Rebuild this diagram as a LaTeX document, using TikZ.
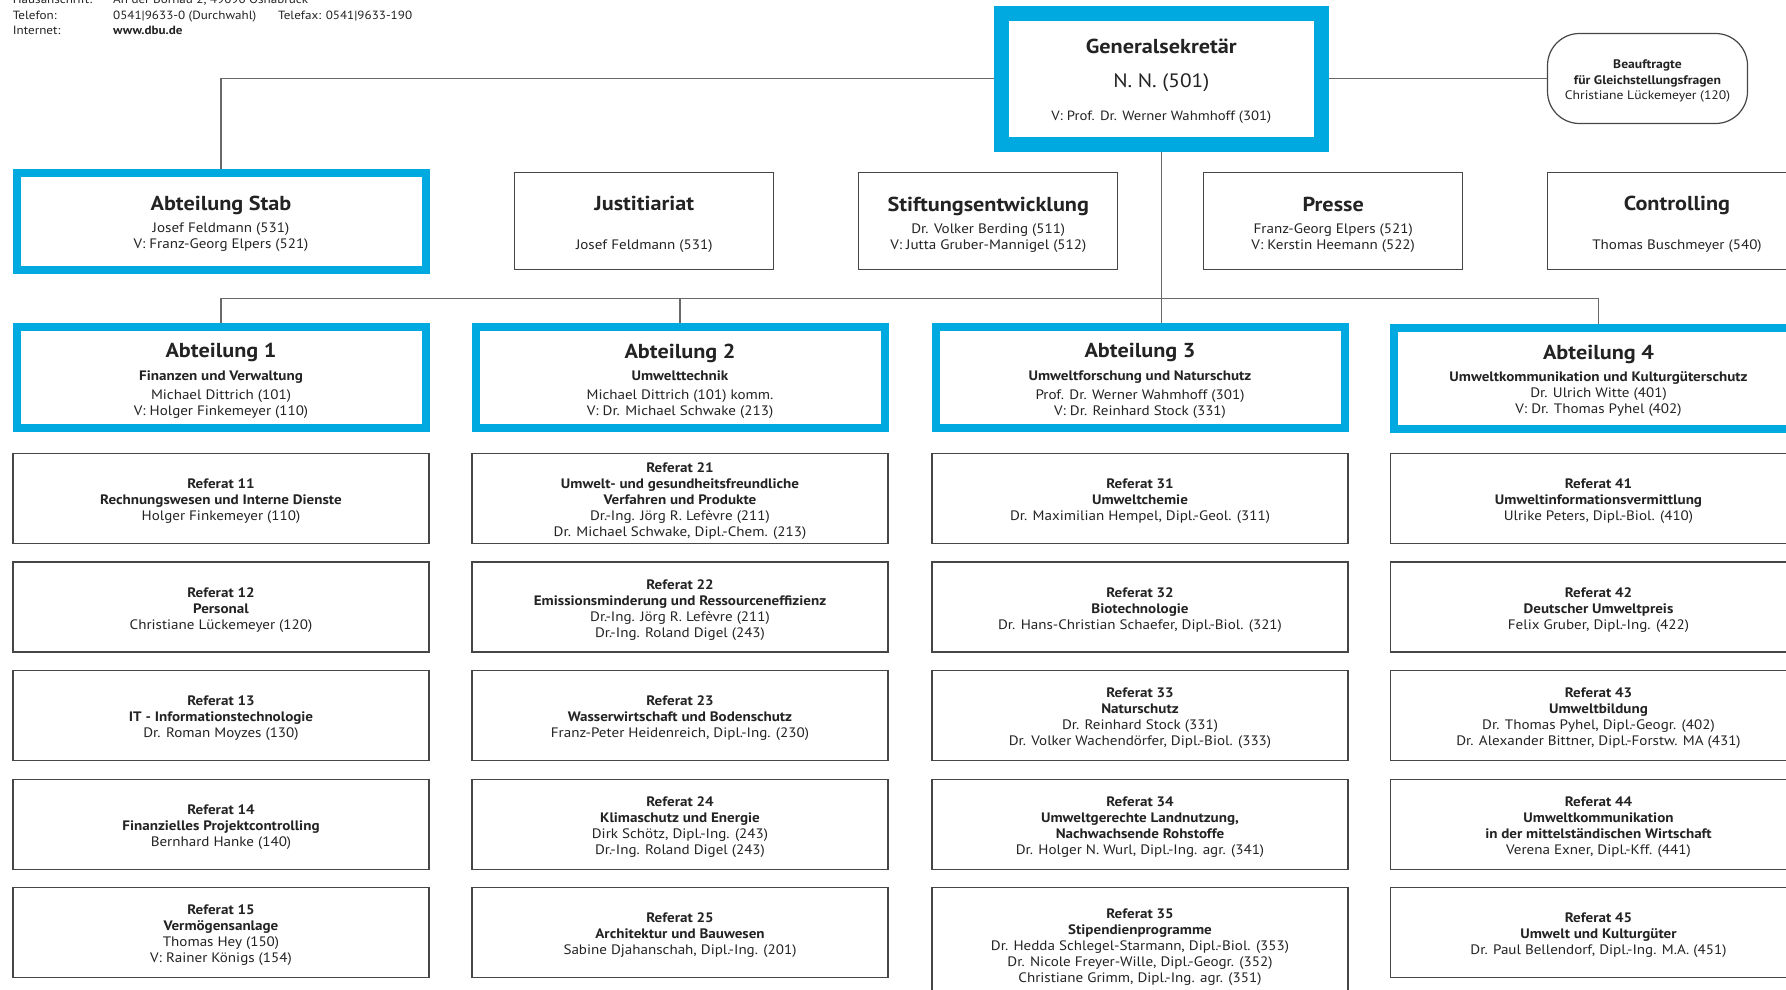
\documentclass[tikz,border=0pt]{standalone}
\usepackage{fontspec}
\setmainfont[FakeStretch=1.1]{PT Sans}
\usepackage{tikz}
\usetikzlibrary{positioning,backgrounds}
\definecolor{DBUBlue}{RGB}{0,169,224}
\definecolor{FrameGray}{RGB}{70,70,70}
\definecolor{LinkGray}{RGB}{105,105,105}
\definecolor{InkDark}{RGB}{35,35,35}
\newcommand{\boxtitle}[1]{{\fontsize{20.2}{16}\selectfont\bfseries #1}}
% empty closing line, pulls the text block a little lower in its frame
\newcommand{\lastfix}[1]{\\[-#1]\mbox{}}
\lineskiplimit=-100pt

\begin{document}
\begin{tikzpicture}[x=1pt, y=-1pt,
  every node/.style={text=InkDark},
  gsbox/.style={draw=DBUBlue, line width=15pt, fill=white, minimum width=320pt, minimum height=131pt, align=center, inner sep=0pt, font=\fontsize{13.4}{16}\selectfont},
  abtbox/.style={draw=DBUBlue, line width=8pt, fill=white, minimum width=409pt, minimum height=101pt, align=center, inner sep=0pt, font=\fontsize{13.7}{16}\selectfont},
  stabbox/.style={abtbox, minimum height=97pt},
  staffbox/.style={draw=FrameGray, line width=1.2pt, fill=white, minimum width=259pt, minimum height=97pt, align=center, inner sep=0pt, font=\fontsize{13.7}{16}\selectfont},
  refbox/.style={staffbox, minimum width=416pt, minimum height=90pt},
  pill/.style={draw=FrameGray, line width=1.2pt, fill=white, rounded corners=32pt, minimum width=200pt, minimum height=90pt, align=center, inner sep=0pt, font=\fontsize{12.4}{15.5}\selectfont},
  head/.style={anchor=base west, inner sep=0pt, font=\fontsize{11.9}{14}\selectfont},
  line/.style={draw=LinkGray, line width=1.2pt}
]
\useasboundingbox (0,0) rectangle (1786,990);

% address block
\node[head] (hausL) at (12.7,4) {Hausanschrift:};
\node[head] (hausV) at (113,4) {An der Bornau 2, 49090 Osnabrück};
\node[head] (telL) at (12.7,19.3) {Telefon:};
\node[head] (telV) at (113,19.3) {0541|9633-0 (Durchwahl)};
\node[head] (faxV) at (278,19.3) {Telefax: 0541|9633-190};
\node[head] (webL) at (12.7,34.3) {Internet:};
\node[head] (webV) at (113,34.3) {\textbf{www.dbu.de}};

% top
\node[gsbox] (gen) at (1161.3,78.7) {\boxtitle{Generalsekretär}\\[18pt]{\fontsize{19.4}{16}\selectfont N. N. (501)}\\[17pt]V: Prof. Dr. Werner Wahmhoff (301)\lastfix{18.5pt}};
\node[pill] (gleich) at (1647.5,78.5) {\textbf{Beauftragte}\\\textbf{für Gleichstellungsfragen}\\Christiane Lückemeyer (120)\lastfix{18.5pt}};

% staff units
\node[stabbox] (stab) at (221,221) {\boxtitle{Abteilung Stab}\\[6pt]Josef Feldmann (531)\\V: Franz-Georg Elpers (521)\lastfix{19.3pt}};
\node[staffbox] (justiz) at (644.3,221) {\boxtitle{Justitiariat}\\[22.5pt]Josef Feldmann (531)\lastfix{19.8pt}};
\node[staffbox] (stift) at (988.3,221) {\boxtitle{Stiftungsentwicklung}\\[6pt]Dr. Volker Berding (511)\\V: Jutta Gruber-Mannigel (512)\lastfix{19.8pt}};
\node[staffbox] (presse) at (1333.2,221) {\boxtitle{Presse}\\[6pt]Franz-Georg Elpers (521)\\V: Kerstin Heemann (522)\lastfix{19.8pt}};
\node[staffbox] (contr) at (1677,221) {\boxtitle{Controlling}\\[22.5pt]Thomas Buschmeyer (540)\lastfix{19.8pt}};

% departments
\node[abtbox] (abt1) at (221,377) {\boxtitle{Abteilung 1}\\[6.7pt]\textbf{Finanzen und Verwaltung}\\[3pt]Michael Dittrich (101)\\V: Holger Finkemeyer (110)\lastfix{21.3pt}};
\node[abtbox] (abt2) at (680,377) {\boxtitle{Abteilung 2}\\[6.7pt]\textbf{Umwelttechnik}\\[3pt]Michael Dittrich (101) komm.\\V: Dr. Michael Schwake (213)\lastfix{21.3pt}};
\node[abtbox] (abt3) at (1140,377) {\boxtitle{Abteilung 3}\\[6.7pt]\textbf{Umweltforschung und Naturschutz}\\[3pt]Prof. Dr. Werner Wahmhoff (301)\\V: Dr. Reinhard Stock (331)\lastfix{21.3pt}};
\node[abtbox] (abt4) at (1598.5,378.5) {\boxtitle{Abteilung 4}\\[6.4pt]\textbf{Umweltkommunikation und Kulturgüterschutz}\\Dr. Ulrich Witte (401)\\V: Dr. Thomas Pyhel (402)\lastfix{18pt}};

% Referate, Abteilung 1
\node[refbox] (r11) at (221,498.3) {\textbf{Referat 11}\\\textbf{Rechnungswesen und Interne Dienste}\\Holger Finkemeyer (110)\lastfix{18.5pt}};
\node[refbox] (r12) at (221,606.9) {\textbf{Referat 12}\\\textbf{Personal}\\Christiane Lückemeyer (120)\lastfix{18.5pt}};
\node[refbox] (r13) at (221,715.5) {\textbf{Referat 13}\\\textbf{IT - Informationstechnologie}\\Dr. Roman Moyzes (130)\lastfix{18.5pt}};
\node[refbox] (r14) at (221,824.1) {\textbf{Referat 14}\\\textbf{Finanzielles Projektcontrolling}\\Bernhard Hanke (140)\lastfix{18.5pt}};
\node[refbox] (r15) at (221,932.7) {\textbf{Referat 15}\\\textbf{Vermögensanlage}\\Thomas Hey (150)\\V: Rainer Königs (154)\lastfix{18.5pt}};

% Referate, Abteilung 2
\node[refbox] (r21) at (680,498.3) {\textbf{Referat 21}\\\textbf{Umwelt- und gesundheitsfreundliche}\\\textbf{Verfahren und Produkte}\\Dr.-Ing. Jörg R. Lefèvre (211)\\Dr. Michael Schwake, Dipl.-Chem. (213)\lastfix{18.5pt}};
\node[refbox] (r22) at (680,606.9) {\textbf{Referat 22}\\\textbf{Emissionsminderung und Ressourceneffizienz}\\Dr.-Ing. Jörg R. Lefèvre (211)\\Dr.-Ing. Roland Digel (243)\lastfix{18.5pt}};
\node[refbox] (r23) at (680,715.5) {\textbf{Referat 23}\\\textbf{Wasserwirtschaft und Bodenschutz}\\Franz-Peter Heidenreich, Dipl.-Ing. (230)\lastfix{18.5pt}};
\node[refbox] (r24) at (680,824.1) {\textbf{Referat 24}\\\textbf{Klimaschutz und Energie}\\Dirk Schötz, Dipl.-Ing. (243)\\Dr.-Ing. Roland Digel (243)\lastfix{18.5pt}};
\node[refbox] (r25) at (680,932.7) {\textbf{Referat 25}\\\textbf{Architektur und Bauwesen}\\Sabine Djahanschah, Dipl.-Ing. (201)\lastfix{18.5pt}};

% Referate, Abteilung 3
\node[refbox] (r31) at (1140,498.3) {\textbf{Referat 31}\\\textbf{Umweltchemie}\\Dr. Maximilian Hempel, Dipl.-Geol. (311)\lastfix{18.5pt}};
\node[refbox] (r32) at (1140,606.9) {\textbf{Referat 32}\\\textbf{Biotechnologie}\\Dr. Hans-Christian Schaefer, Dipl.-Biol. (321)\lastfix{18.5pt}};
\node[refbox] (r33) at (1140,715.5) {\textbf{Referat 33}\\\textbf{Naturschutz}\\Dr. Reinhard Stock (331)\\Dr. Volker Wachendörfer, Dipl.-Biol. (333)\lastfix{18.5pt}};
\node[refbox] (r34) at (1140,824.1) {\textbf{Referat 34}\\\textbf{Umweltgerechte Landnutzung,}\\\textbf{Nachwachsende Rohstoffe}\\Dr. Holger N. Wurl, Dipl.-Ing. agr. (341)\lastfix{18.5pt}};
\node[refbox, minimum height=114pt] (r35) at (1140,944.3) {\textbf{Referat 35}\\\textbf{Stipendienprogramme}\\Dr. Hedda Schlegel-Starmann, Dipl.-Biol. (353)\\Dr. Nicole Freyer-Wille, Dipl.-Geogr. (352)\\Christiane Grimm, Dipl.-Ing. agr. (351)\lastfix{18.5pt}};

% Referate, Abteilung 4
\node[refbox] (r41) at (1598.5,498.3) {\textbf{Referat 41}\\\textbf{Umweltinformationsvermittlung}\\Ulrike Peters, Dipl.-Biol. (410)\lastfix{18.5pt}};
\node[refbox] (r42) at (1598.5,606.9) {\textbf{Referat 42}\\\textbf{Deutscher Umweltpreis}\\Felix Gruber, Dipl.-Ing. (422)\lastfix{18.5pt}};
\node[refbox] (r43) at (1598.5,715.5) {\textbf{Referat 43}\\\textbf{Umweltbildung}\\Dr. Thomas Pyhel, Dipl.-Geogr. (402)\\Dr. Alexander Bittner, Dipl.-Forstw. MA (431)\lastfix{18.5pt}};
\node[refbox] (r44) at (1598.5,824.1) {\textbf{Referat 44}\\\textbf{Umweltkommunikation}\\\textbf{in der mittelständischen Wirtschaft}\\Verena Exner, Dipl.-Kff. (441)\lastfix{18.5pt}};
\node[refbox] (r45) at (1598.5,932.7) {\textbf{Referat 45}\\\textbf{Umwelt und Kulturgüter}\\Dr. Paul Bellendorf, Dipl.-Ing. M.A. (451)\lastfix{18.5pt}};

% connectors
\coordinate (bus) at (1161.3,298.4);
\begin{scope}[on background layer]
\draw[line] (gen.west) -| (stab.north);
\draw[line] (gen.east) -- (gen.east -| gleich.west);
\draw[line] (gen.south) -- (gen.south |- abt3.north);
\draw[line] (abt1.north) |- (bus) -| (abt4.north);
\draw[line] (abt2.north) -- (abt2.north |- bus);
\end{scope}
\end{tikzpicture}
\end{document}
